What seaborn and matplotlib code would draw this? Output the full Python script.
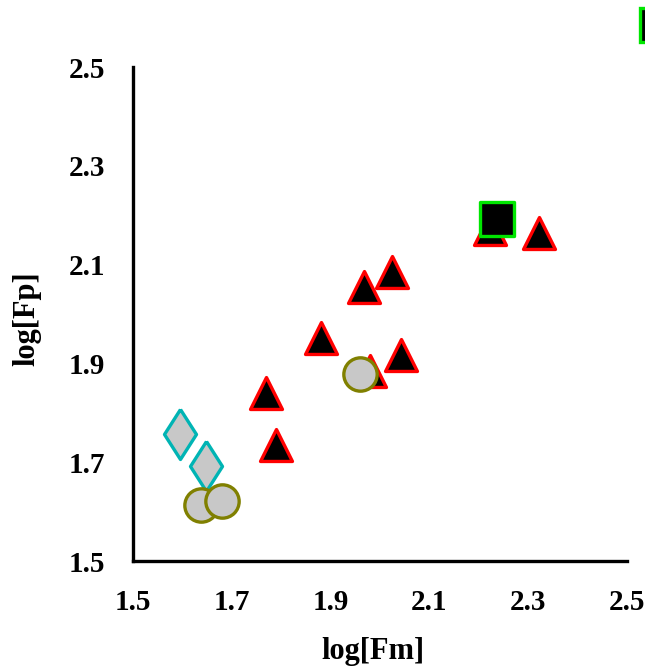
import matplotlib
matplotlib.use("Agg")
import matplotlib.pyplot as plt
import seaborn as sns
import pandas as pd
from matplotlib.lines import Line2D
from matplotlib.ticker import MultipleLocator

# ---- data ----
tri_x = [1.769, 1.789, 1.881, 1.968, 1.979, 2.024, 2.043, 2.223, 2.322]
tri_y = [1.840, 1.735, 1.951, 2.055, 1.884, 2.085, 1.917, 2.172, 2.164]
dia_x = [1.595, 1.648]
dia_y = [1.758, 1.692]
cir_x = [1.638, 1.680, 1.960]
cir_y = [1.613, 1.622, 1.878]
sq_x = [2.237]
sq_y = [2.193]
x_ticks = [1.5, 1.7, 1.9, 2.1, 2.3, 2.5]
y_ticks = [1.5, 1.7, 1.9, 2.1, 2.3, 2.5]
x_label = "log[Fm]"
y_label = "log[Fp]"

sns.set_style("white")
plt.rcParams["font.family"] = ["Liberation Serif", "DejaVu Serif"]
plt.rcParams["font.weight"] = "bold"
plt.rcParams["text.color"] = "black"
plt.rcParams["axes.labelcolor"] = "black"
plt.rcParams["xtick.color"] = "black"
plt.rcParams["ytick.color"] = "black"

fig = plt.figure(figsize=(6.45, 6.68), dpi=100)
ax = fig.add_axes([133 / 645, 1 - 561 / 668, 494 / 645, 494 / 668])

tri = pd.DataFrame({"x": tri_x, "y": tri_y})
dia = pd.DataFrame({"x": dia_x, "y": dia_y})
cir = pd.DataFrame({"x": cir_x, "y": cir_y})
sq = pd.DataFrame({"x": sq_x, "y": sq_y})

diamond = [(0, 1), (0.64, 0), (0, -1), (-0.64, 0), (0, 1)]

sns.scatterplot(data=tri, x="x", y="y", marker="^", s=23 ** 2, color="black",
                edgecolor="#FF0000", linewidth=2.4, ax=ax, zorder=3)
sns.scatterplot(data=dia, x="x", y="y", marker=diamond, s=36 ** 2, color="#C8C8C8",
                edgecolor="#00B4B4", linewidth=2.4, ax=ax, zorder=4)
sns.scatterplot(data=cir, x="x", y="y", marker="o", s=24 ** 2, color="#C8C8C8",
                edgecolor="#808000", linewidth=2.4, ax=ax, zorder=5)
sns.scatterplot(data=sq, x="x", y="y", marker="s", s=24 ** 2, color="black",
                edgecolor="#00E600", linewidth=2.4, ax=ax, zorder=6)

ax.set_xlim(1.5, 2.5)
ax.set_ylim(1.5, 2.5)
ax.set_xticks(x_ticks)
ax.set_yticks(y_ticks)
ax.set_xticklabels([f"{v:.1f}" for v in x_ticks])
ax.set_yticklabels([f"{v:.1f}" for v in y_ticks])
ax.xaxis.set_minor_locator(MultipleLocator(0.1))
ax.yaxis.set_minor_locator(MultipleLocator(0.1))

for s in ["top", "right"]:
    ax.spines[s].set_visible(False)
for s in ["left", "bottom"]:
    ax.spines[s].set_linewidth(2.4)
    ax.spines[s].set_color("black")

ax.tick_params(axis="both", which="both", direction="out", length=4, width=2.2,
               color="black")
ax.tick_params(axis="both", which="major", labelsize=21, labelcolor="black")
ax.tick_params(axis="x", which="major", pad=16)
ax.tick_params(axis="y", which="major", pad=16)
for lab in ax.get_xticklabels() + ax.get_yticklabels():
    lab.set_fontweight("bold")

ax.set_xlabel(x_label, fontsize=22, fontweight="bold", color="black")
ax.set_ylabel(y_label, fontsize=22, fontweight="bold", color="black")
ax.xaxis.set_label_coords(0.485, -0.153)
ax.yaxis.set_label_coords(-0.185, 0.49)

# partially visible legend marker at the top right (cut off by the figure edge)
handle = Line2D([], [], linestyle="none", marker="s", markersize=24,
                markerfacecolor="black", markeredgecolor="#00E600",
                markeredgewidth=2.4)
fig.legend(handles=[handle], labels=[""], loc="center",
           bbox_to_anchor=(657 / 645, 1 - 26 / 668), frameon=False,
           handlelength=0, handletextpad=0, borderpad=0, borderaxespad=0)

fig.savefig("out.png", dpi=100, facecolor="white")
